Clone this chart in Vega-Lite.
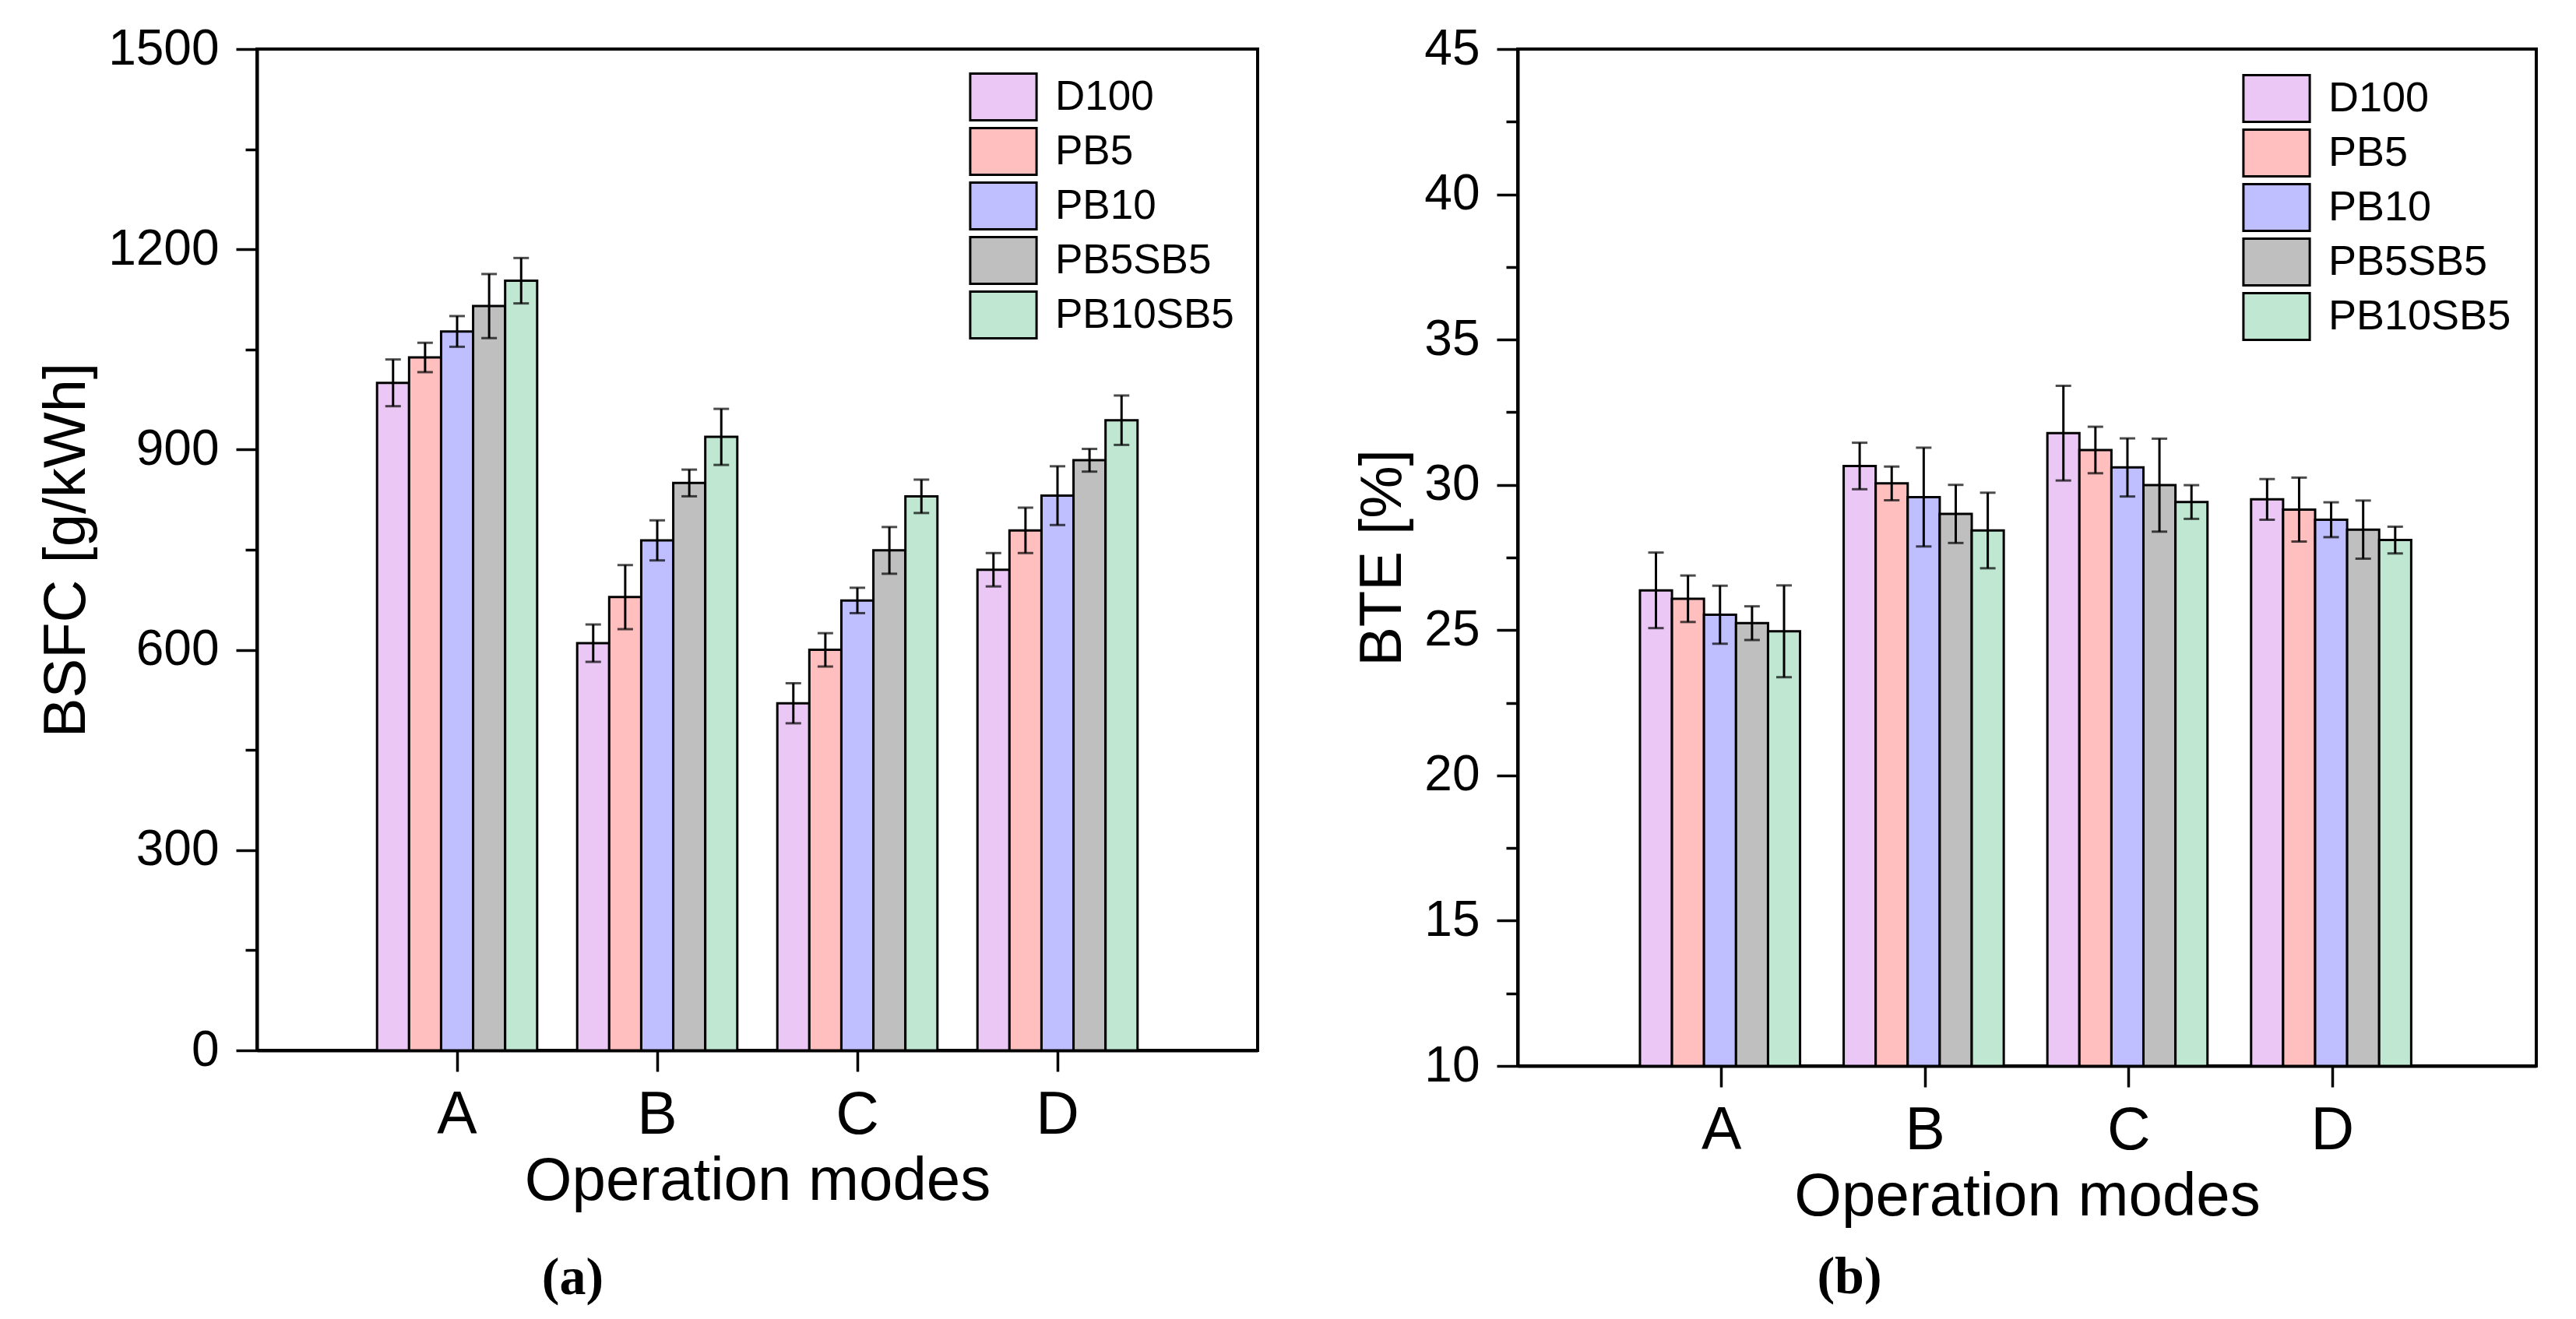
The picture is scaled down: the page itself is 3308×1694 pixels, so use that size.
{
  "$schema": "https://vega.github.io/schema/vega-lite/v6.json",
  "background": "white",
  "padding": {"left": 45, "top": 29, "right": 5, "bottom": 5},
  "spacing": 118,
  "config": {
    "font": "Liberation Sans",
    "view": {"stroke": "black", "strokeWidth": 4},
    "axis": {
      "domainColor": "black", "domainWidth": 4,
      "tickColor": "black", "tickWidth": 3.5,
      "labelColor": "black", "titleColor": "black",
      "labelFont": "Liberation Sans", "titleFont": "Liberation Sans",
      "titleFontWeight": "normal", "grid": false
    }
  },
  "datasets": {
    "bsfc": [
      {"mode": "A", "fuel": "D100", "value": 1000, "lo": 965, "hi": 1035},
      {"mode": "A", "fuel": "PB5", "value": 1038, "lo": 1016, "hi": 1060},
      {"mode": "A", "fuel": "PB10", "value": 1077, "lo": 1054, "hi": 1100},
      {"mode": "A", "fuel": "PB5SB5", "value": 1115, "lo": 1067, "hi": 1163},
      {"mode": "A", "fuel": "PB10SB5", "value": 1153, "lo": 1119, "hi": 1187},
      {"mode": "B", "fuel": "D100", "value": 610, "lo": 582, "hi": 638},
      {"mode": "B", "fuel": "PB5", "value": 679, "lo": 631, "hi": 727},
      {"mode": "B", "fuel": "PB10", "value": 764, "lo": 734, "hi": 794},
      {"mode": "B", "fuel": "PB5SB5", "value": 850, "lo": 830, "hi": 870},
      {"mode": "B", "fuel": "PB10SB5", "value": 919, "lo": 877, "hi": 961},
      {"mode": "C", "fuel": "D100", "value": 520, "lo": 490, "hi": 550},
      {"mode": "C", "fuel": "PB5", "value": 600, "lo": 575, "hi": 625},
      {"mode": "C", "fuel": "PB10", "value": 674, "lo": 655, "hi": 693},
      {"mode": "C", "fuel": "PB5SB5", "value": 749, "lo": 714, "hi": 784},
      {"mode": "C", "fuel": "PB10SB5", "value": 830, "lo": 805, "hi": 855},
      {"mode": "D", "fuel": "D100", "value": 720, "lo": 695, "hi": 745},
      {"mode": "D", "fuel": "PB5", "value": 779, "lo": 745, "hi": 813},
      {"mode": "D", "fuel": "PB10", "value": 831, "lo": 787, "hi": 875},
      {"mode": "D", "fuel": "PB5SB5", "value": 884, "lo": 867, "hi": 901},
      {"mode": "D", "fuel": "PB10SB5", "value": 944, "lo": 907, "hi": 981}
    ],
    "bte": [
      {"mode": "A", "fuel": "D100", "value": 26.37, "lo": 25.07, "hi": 27.67},
      {"mode": "A", "fuel": "PB5", "value": 26.08, "lo": 25.28, "hi": 26.88},
      {"mode": "A", "fuel": "PB10", "value": 25.53, "lo": 24.53, "hi": 26.53},
      {"mode": "A", "fuel": "PB5SB5", "value": 25.24, "lo": 24.66, "hi": 25.82},
      {"mode": "A", "fuel": "PB10SB5", "value": 24.96, "lo": 23.38, "hi": 26.54},
      {"mode": "B", "fuel": "D100", "value": 30.65, "lo": 29.85, "hi": 31.45},
      {"mode": "B", "fuel": "PB5", "value": 30.05, "lo": 29.47, "hi": 30.63},
      {"mode": "B", "fuel": "PB10", "value": 29.58, "lo": 27.88, "hi": 31.28},
      {"mode": "B", "fuel": "PB5SB5", "value": 29.0, "lo": 28.0, "hi": 30.0},
      {"mode": "B", "fuel": "PB10SB5", "value": 28.43, "lo": 27.13, "hi": 29.73},
      {"mode": "C", "fuel": "D100", "value": 31.78, "lo": 30.15, "hi": 33.41},
      {"mode": "C", "fuel": "PB5", "value": 31.2, "lo": 30.4, "hi": 32.0},
      {"mode": "C", "fuel": "PB10", "value": 30.6, "lo": 29.6, "hi": 31.6},
      {"mode": "C", "fuel": "PB5SB5", "value": 29.99, "lo": 28.39, "hi": 31.59},
      {"mode": "C", "fuel": "PB10SB5", "value": 29.41, "lo": 28.83, "hi": 29.99},
      {"mode": "D", "fuel": "D100", "value": 29.5, "lo": 28.8, "hi": 30.2},
      {"mode": "D", "fuel": "PB5", "value": 29.15, "lo": 28.05, "hi": 30.25},
      {"mode": "D", "fuel": "PB10", "value": 28.8, "lo": 28.2, "hi": 29.4},
      {"mode": "D", "fuel": "PB5SB5", "value": 28.46, "lo": 27.46, "hi": 29.46},
      {"mode": "D", "fuel": "PB10SB5", "value": 28.1, "lo": 27.64, "hi": 28.56}
    ]
  },
  "resolve": {"scale": {"fill": "independent"}, "legend": {"fill": "independent"}},
  "hconcat": [
    {
      "width": 1285,
      "height": 1286,
      "data": {"name": "bsfc"},
      "title": {"text": "(a)", "orient": "bottom", "anchor": "middle", "frame": "group", "dx": -237, "offset": 52, "font": "Liberation Serif", "fontSize": 68, "fontWeight": "bold", "color": "black"},
      "encoding": {
        "x": {"field": "mode", "type": "nominal", "scale": {"paddingInner": 0.2, "paddingOuter": 0.6},
          "axis": {"labelAngle": 0, "labelFontSize": 77, "tickSize": 27, "labelPadding": 18, "title": "Operation modes", "titleFontSize": 78, "titlePadding": 8}},
        "xOffset": {"field": "fuel", "type": "nominal", "sort": ["D100", "PB5", "PB10", "PB5SB5", "PB10SB5"], "scale": {"paddingInner": 0, "paddingOuter": 0}}
      },
      "layer": [
        {
          "mark": {"type": "bar", "stroke": "black", "strokeWidth": 3},
          "encoding": {
            "y": {"field": "value", "type": "quantitative", "scale": {"domain": [0, 1500], "nice": false},
              "axis": {"orient": "left", "values": [0, 300, 600, 900, 1200, 1500], "format": "d", "tickSize": 27, "labelPadding": 22, "labelFontSize": 64, "title": "BSFC [g/kWh]", "titleFontSize": 76, "titlePadding": 14}},
            "fill": {"field": "fuel", "type": "nominal", "sort": ["D100", "PB5", "PB10", "PB5SB5", "PB10SB5"],
              "scale": {"domain": ["D100", "PB5", "PB10", "PB5SB5", "PB10SB5"], "range": ["#EBC7F5", "#FFBFBF", "#BFBFFF", "#BFBFBF", "#BFE7D2"]},
              "legend": {"orient": "top-right", "offset": 30, "title": null, "symbolType": "M-1.42,-1H1.42V1H-1.42Z", "symbolSize": 3600, "symbolStrokeColor": "black", "symbolStrokeWidth": 3, "labelFontSize": 53, "labelLimit": 0, "labelOffset": 35, "rowPadding": -3, "padding": 0, "labelColor": "black"}}
          }
        },
        {
          "mark": {"type": "rule", "color": "black", "strokeWidth": 3},
          "encoding": {
            "y": {"field": "lo", "type": "quantitative",
              "axis": {"orient": "left", "values": [150, 450, 750, 1050, 1350], "labels": false, "domain": false, "tickSize": 15, "title": null}},
            "y2": {"field": "hi"}
          }
        },
        {
          "mark": {"type": "tick", "color": "black", "thickness": 3, "size": 20},
          "encoding": {"y": {"field": "lo", "type": "quantitative", "axis": null}}
        },
        {
          "mark": {"type": "tick", "color": "black", "thickness": 3, "size": 20},
          "encoding": {"y": {"field": "hi", "type": "quantitative", "axis": null}}
        }
      ],
      "resolve": {"axis": {"y": "independent"}}
    },
    {
      "width": 1308,
      "height": 1306,
      "data": {"name": "bte"},
      "title": {"text": "(b)", "orient": "bottom", "anchor": "middle", "frame": "group", "dx": -228, "offset": 31, "font": "Liberation Serif", "fontSize": 68, "fontWeight": "bold", "color": "black"},
      "encoding": {
        "x": {"field": "mode", "type": "nominal", "scale": {"paddingInner": 0.2, "paddingOuter": 0.6},
          "axis": {"labelAngle": 0, "labelFontSize": 77, "tickSize": 27, "labelPadding": 18, "title": "Operation modes", "titleFontSize": 78, "titlePadding": 8}},
        "xOffset": {"field": "fuel", "type": "nominal", "sort": ["D100", "PB5", "PB10", "PB5SB5", "PB10SB5"], "scale": {"paddingInner": 0, "paddingOuter": 0}}
      },
      "layer": [
        {
          "mark": {"type": "bar", "stroke": "black", "strokeWidth": 3},
          "encoding": {
            "y": {"field": "value", "type": "quantitative", "scale": {"domain": [10, 45], "nice": false, "zero": false},
              "axis": {"orient": "left", "values": [10, 15, 20, 25, 30, 35, 40, 45], "format": "d", "tickSize": 27, "labelPadding": 22, "labelFontSize": 64, "title": "BTE [%]", "titleFontSize": 76, "titlePadding": 14}},
            "y2": {"datum": 10},
            "fill": {"field": "fuel", "type": "nominal", "sort": ["D100", "PB5", "PB10", "PB5SB5", "PB10SB5"],
              "scale": {"domain": ["D100", "PB5", "PB10", "PB5SB5", "PB10SB5"], "range": ["#EBC7F5", "#FFBFBF", "#BFBFFF", "#BFBFBF", "#BFE7D2"]},
              "legend": {"orient": "top-right", "offset": 32, "title": null, "symbolType": "M-1.42,-1H1.42V1H-1.42Z", "symbolSize": 3600, "symbolStrokeColor": "black", "symbolStrokeWidth": 3, "labelFontSize": 54, "labelLimit": 0, "labelOffset": 35, "rowPadding": -3, "padding": 0, "labelColor": "black"}}
          }
        },
        {
          "mark": {"type": "rule", "color": "black", "strokeWidth": 3},
          "encoding": {
            "y": {"field": "lo", "type": "quantitative",
              "axis": {"orient": "left", "values": [12.5, 17.5, 22.5, 27.5, 32.5, 37.5, 42.5], "labels": false, "domain": false, "tickSize": 15, "title": null}},
            "y2": {"field": "hi"}
          }
        },
        {
          "mark": {"type": "tick", "color": "black", "thickness": 3, "size": 20},
          "encoding": {"y": {"field": "lo", "type": "quantitative", "axis": null}}
        },
        {
          "mark": {"type": "tick", "color": "black", "thickness": 3, "size": 20},
          "encoding": {"y": {"field": "hi", "type": "quantitative", "axis": null}}
        }
      ],
      "resolve": {"axis": {"y": "independent"}}
    }
  ]
}
